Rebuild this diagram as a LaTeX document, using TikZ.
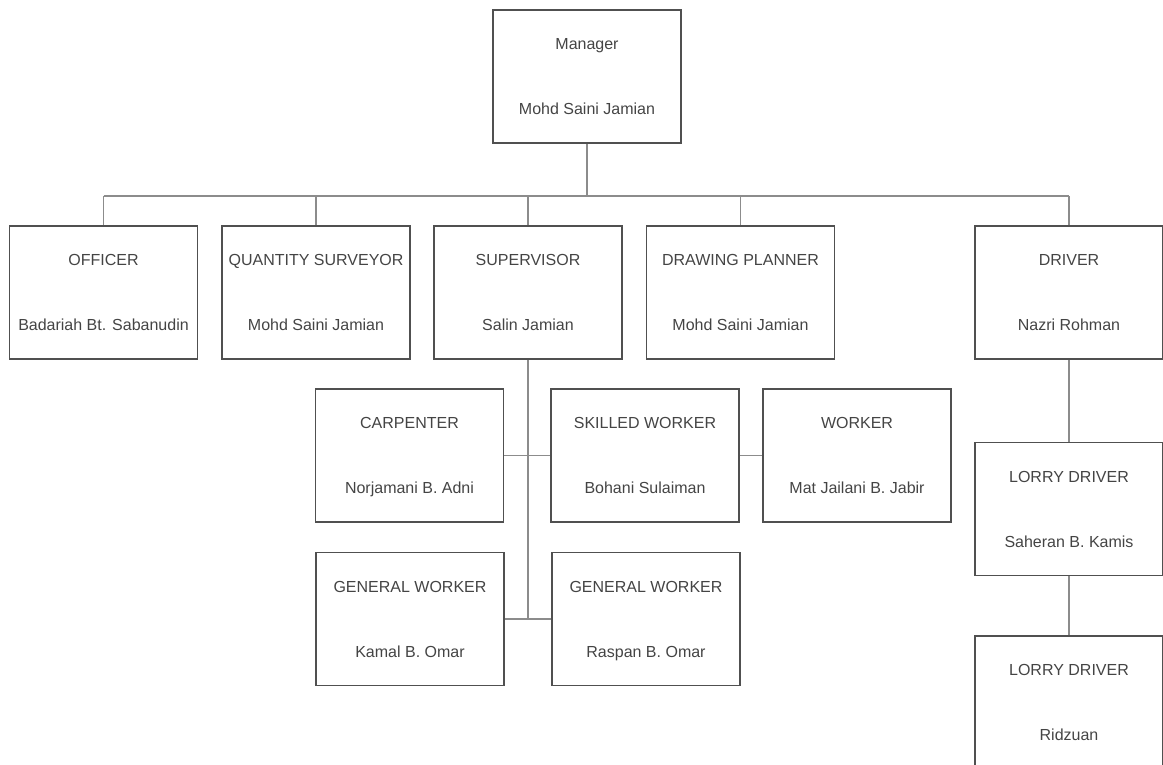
\documentclass[tikz,border=0pt]{standalone}
\usepackage{fontspec}
\setmainfont{Liberation Sans}
\usetikzlibrary{calc}

\definecolor{boxline}{HTML}{505050}
\definecolor{linkline}{HTML}{8C8C8C}
\definecolor{txtgray}{HTML}{444444}

\tikzset{
    orgbox/.style={draw=boxline, line width=1.6pt, minimum width=188pt, minimum height=133pt, inner sep=0pt},
    link/.style={draw=linkline, line width=1.4pt},
    roletext/.style={text=txtgray, font=\fontsize{16}{19}\selectfont, inner sep=0pt, text height=11.6pt, text depth=0pt}
}

\begin{document}
\begin{tikzpicture}[x=1pt,y=-1pt]
    \clip (0,0) rectangle (1163,765);

    % Boxes: name / centre x / centre y / job / person
    \foreach \n/\x/\y/\role/\who in {
        manager/587/76.5/Manager/Mohd Saini Jamian,
        officer/103.5/292.5/OFFICER/Badariah Bt. Sabanudin,
        qs/316/292.5/QUANTITY SURVEYOR/Mohd Saini Jamian,
        supervisor/528/292.5/SUPERVISOR/Salin Jamian,
        planner/740.5/292.5/DRAWING PLANNER/Mohd Saini Jamian,
        driver/1069/292.5/DRIVER/Nazri Rohman,
        carpenter/409.5/455.5/CARPENTER/Norjamani B. Adni,
        skilled/645/455.5/SKILLED WORKER/Bohani Sulaiman,
        worker/857/455.5/WORKER/Mat Jailani B. Jabir,
        gwa/410/619/GENERAL WORKER/Kamal B. Omar,
        gwb/646/619/GENERAL WORKER/Raspan B. Omar,
        lorrya/1069/509/LORRY DRIVER/Saheran B. Kamis,
        lorryb/1069/702.5/LORRY DRIVER/Ridzuan}{
        \node[orgbox] (\n) at (\x,\y) {};
        % job on top, person below
        \node[roletext] (\n-role) at ($(\n.center)+(0,-32.5)$) {\role};
        \node[roletext] (\n-who) at ($(\n.center)+(0,32.5)$) {\who};
    }

    % Bus line under the manager
    \coordinate (bus) at (587,196);
    \draw[link] (manager) -- (bus);
    \draw[link] (officer |- bus) -- (driver |- bus);
    \foreach \n in {officer,qs,supervisor,planner,driver}
        \draw[link] (\n) -- (\n |- bus);

    % Supervisor's team
    \draw[link] (supervisor) -- (supervisor |- gwa.east);
    \draw[link] (carpenter) -- (skilled);
    \draw[link] (skilled) -- (worker);
    \draw[link] (gwa) -- (gwb);

    % Drivers
    \draw[link] (driver) -- (lorrya) -- (lorryb);
\end{tikzpicture}
\end{document}
